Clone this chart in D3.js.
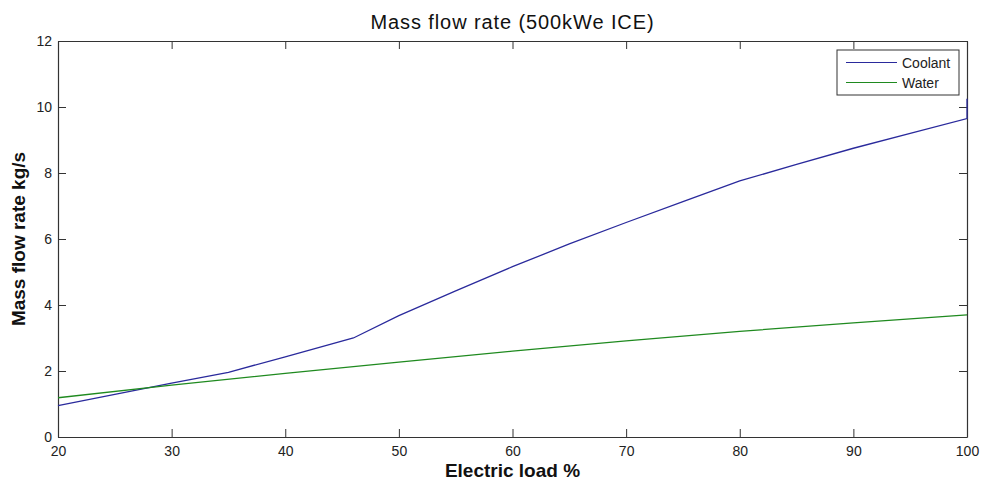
<!DOCTYPE html>
<html lang="en">
<head>
    <meta charset="UTF-8">
    <title>Mass flow rate (500kWe ICE)</title>
    <script src="https://d3js.org/d3.v7.min.js"></script>
    <style>
        body { margin: 0; background: #fff; }
        svg { display: block; font-family: "Liberation Sans", Arial, sans-serif; }
        .tick text { fill: #222; }
    </style>
</head>
<body>
    <svg width="984" height="484"></svg>
    <script>
// Data
const coolantLoad = [20, 25, 30, 35, 40, 46, 50, 55, 60, 65, 70, 75, 80, 85, 90, 95, 100, 100];
const coolantFlow = [0.95, 1.29, 1.63, 1.96, 2.43, 3.0, 3.68, 4.43, 5.16, 5.85, 6.5, 7.13, 7.76, 8.26, 8.75, 9.2, 9.65, 10.25];
const waterLoad = [20, 30, 40, 50, 60, 70, 80, 90, 100];
const waterFlow = [1.19, 1.57, 1.93, 2.27, 2.6, 2.91, 3.2, 3.46, 3.7];
const xTicks = [20, 30, 40, 50, 60, 70, 80, 90, 100];
const yTicks = [0, 2, 4, 6, 8, 10, 12];
const seriesNames = ['Coolant', 'Water'];
const seriesColors = ['#2a2a9c', '#1f8a1f'];

const margin = {top: 41, right: 17, bottom: 47, left: 58};
const width = 984 - margin.left - margin.right;
const height = 484 - margin.top - margin.bottom;

const svg = d3.select('svg');
const g = svg.append('g')
    .attr('transform', `translate(${margin.left},${margin.top})`);

const x = d3.scaleLinear().domain([20, 100]).range([0, width]);
const y = d3.scaleLinear().domain([0, 12]).range([height, 0]);

// axes with inward ticks on all four sides
function styleAxis(sel) {
    sel.select('.domain').attr('stroke', '#333').attr('stroke-width', 1.2);
    sel.selectAll('.tick line').attr('stroke', '#333');
    sel.selectAll('.tick text').style('font-size', '14px');
}

g.append('g')
    .attr('transform', `translate(0,${height})`)
    .call(d3.axisBottom(x).tickValues(xTicks).tickSizeInner(-8).tickSizeOuter(0).tickPadding(9))
    .call(styleAxis);

g.append('g')
    .call(d3.axisTop(x).tickValues(xTicks).tickSizeInner(-8).tickSizeOuter(0).tickFormat(''))
    .call(styleAxis);

g.append('g')
    .call(d3.axisLeft(y).tickValues(yTicks).tickSizeInner(-8).tickSizeOuter(0).tickPadding(6))
    .call(styleAxis);

g.append('g')
    .attr('transform', `translate(${width},0)`)
    .call(d3.axisRight(y).tickValues(yTicks).tickSizeInner(-8).tickSizeOuter(0).tickFormat(''))
    .call(styleAxis);

// lines
const line = d3.line()
    .x(d => x(d[0]))
    .y(d => y(d[1]));

const series = [
    d3.zip(coolantLoad, coolantFlow),
    d3.zip(waterLoad, waterFlow)
];

g.selectAll('.series')
    .data(series)
    .enter()
    .append('path')
    .attr('class', 'series')
    .attr('fill', 'none')
    .attr('stroke', (d, i) => seriesColors[i])
    .attr('stroke-width', 1.3)
    .attr('d', line);

// legend
const legend = svg.append('g').attr('transform', 'translate(837,50)');
legend.append('rect')
    .attr('width', 122).attr('height', 45)
    .attr('fill', '#fff').attr('stroke', '#333').attr('stroke-width', 1);
seriesNames.forEach((name, i) => {
    const ly = 12.5 + i * 20;
    legend.append('line')
        .attr('x1', 9).attr('x2', 60)
        .attr('y1', ly).attr('y2', ly)
        .attr('stroke', seriesColors[i]).attr('stroke-width', 1.2);
    legend.append('text')
        .attr('x', 65).attr('y', ly + 5)
        .style('font-size', '14px')
        .attr('fill', '#222')
        .text(name);
});

// title and axis labels
svg.append('text')
    .attr('x', margin.left + width / 2).attr('y', 29)
    .attr('text-anchor', 'middle')
    .style('font-size', '20px')
    .style('letter-spacing', '0.9px')
    .attr('fill', '#111')
    .text('Mass flow rate (500kWe ICE)');

svg.append('text')
    .attr('x', margin.left + width / 2).attr('y', 477)
    .attr('text-anchor', 'middle')
    .style('font-size', '19px')
    .style('font-weight', 'bold')
    .attr('fill', '#111')
    .text('Electric load %');

svg.append('text')
    .attr('transform', `translate(25,${margin.top + height / 2}) rotate(-90)`)
    .attr('text-anchor', 'middle')
    .style('font-size', '19px')
    .style('font-weight', 'bold')
    .attr('fill', '#111')
    .text('Mass flow rate kg/s');
    </script>
</body>
</html>
